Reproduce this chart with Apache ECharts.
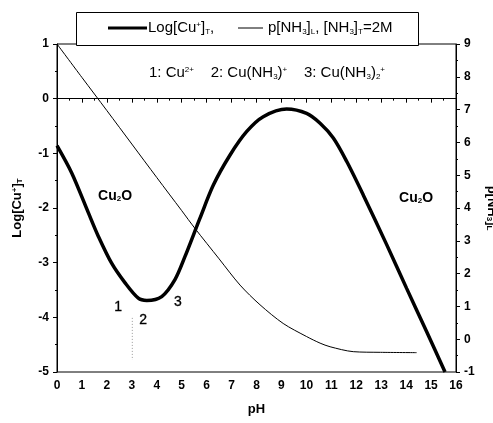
<!DOCTYPE html>
<html>
<head>
<meta charset="utf-8">
<script src="https://cdn.jsdelivr.net/npm/echarts@6/dist/echarts.min.js"></script>
<style>
html,body{margin:0;padding:0;background:#fff;}
#chart{width:493px;height:423px;}
</style>
</head>
<body>
<div id="chart"></div>
<script>
// ---- data ----
var cuPH = [0, 0.59, 1.26, 1.66, 2.19, 2.73, 3.26, 3.6, 4.2, 4.73, 5.13, 5.73, 6.27, 6.94, 7.61, 8.27, 9.21, 10.01, 10.55, 11.08, 11.62, 12.28, 13.22, 14.02, 14.82, 15.56];
var cuLog = [-0.86, -1.36, -2.09, -2.52, -3.01, -3.37, -3.65, -3.69, -3.62, -3.31, -2.89, -2.19, -1.58, -1.03, -0.60, -0.33, -0.19, -0.27, -0.45, -0.72, -1.15, -1.76, -2.67, -3.47, -4.26, -5.0];
var nhPH = [0, 1, 2, 3, 4, 5, 5.53, 6.5, 7.34, 8.14, 9.07, 10.01, 10.55, 10.95, 11.88, 12.97, 14.42];
var nhP = [9.0, 7.98, 6.97, 5.95, 4.93, 3.92, 3.38, 2.45, 1.65, 1.05, 0.48, 0.08, -0.12, -0.23, -0.38, -0.40, -0.41];
var dotPH = [3.02, 3.02];
var dotLog = [-4.01, -4.78];
var annoPH = [2.45, 3.45, 4.85, 2.33, 14.4];
var annoLog = [-3.81, -4.05, -3.72, -1.78, -1.82];
var annoText = ['{d|1}', '{d|2}', '{d|3}', '{b|Cu}{bs|2}{b|O}', '{b|Cu}{bs|2}{b|O}'];
var xTicks = {min: 0, max: 16, interval: 1};
var yLeftTicks = {min: -5, max: 1, interval: 1};
var yRightTicks = {min: -1, max: 9, interval: 1};
var legendTexts = ['Log[Cu{sup|+}]{sub|T},', 'p[NH{sub|3}]{sub|L}, [NH{sub|3}]{sub|T}=2M'];
var speciesText = '1: Cu{sup|2+}    2: Cu(NH{sub|3}){sup|+}    3: Cu(NH{sub|3}){sub|2}{sup|+}';

function zip(a, b) { return a.map(function (v, i) { return [v, b[i]]; }); }

var FONT = 'Liberation Sans';
var richSS = {
  sup: {fontSize: 8, verticalAlign: 'top', fontFamily: FONT, fill: '#000', color: '#000'},
  sub: {fontSize: 8, verticalAlign: 'bottom', fontFamily: FONT, fill: '#000', color: '#000'}
};

var chart = echarts.init(document.getElementById('chart'));
var axisCommon = {
  axisLine: {lineStyle: {color: '#000', width: 1}},
  axisTick: {show: true, length: 4, lineStyle: {color: '#000'}},
  minorTick: {show: true, splitNumber: 2, length: 2, lineStyle: {color: '#000'}},
  splitLine: {show: false},
  axisLabel: {color: '#000', fontFamily: FONT, fontWeight: 'bold', fontSize: 12}
};

var option = {
  animation: false,
  backgroundColor: '#fff',
  grid: {left: 57, right: 37, top: 44, bottom: 51, show: true, borderColor: '#000', borderWidth: 1,
    containLabel: false, outerBoundsMode: 'none'},
  xAxis: Object.assign({
    type: 'value', min: xTicks.min, max: xTicks.max, interval: xTicks.interval,
    name: 'pH', nameLocation: 'middle', nameGap: 31,
    nameTextStyle: {fontFamily: FONT, fontSize: 13, color: '#000', fontWeight: 'bold'}
  }, axisCommon, {axisLabel: Object.assign({}, axisCommon.axisLabel, {margin: 8})}),
  yAxis: [
    Object.assign({
      type: 'value', min: yLeftTicks.min, max: yLeftTicks.max, interval: yLeftTicks.interval,
      position: 'left',
      name: '{m|Log[Cu}{sup|+}{m|]}{sub|T}', nameLocation: 'middle', nameGap: 33, nameRotate: 90,
      nameTextStyle: {fontFamily: FONT, fontSize: 13, color: '#000', fontWeight: 'bold',
        rich: {m: {fontSize: 13, fontWeight: 'bold', fontFamily: FONT, color: '#000'},
               sup: {fontSize: 8, verticalAlign: 'top', fontFamily: FONT, color: '#000'},
               sub: {fontSize: 8, verticalAlign: 'bottom', fontFamily: FONT, color: '#000'}}}
    }, axisCommon),
    Object.assign({
      type: 'value', min: yRightTicks.min, max: yRightTicks.max, interval: yRightTicks.interval,
      position: 'right',
      name: '{m|p[NH}{sub|3}{m|]}{sub|L}', nameLocation: 'middle', nameGap: 19, nameRotate: -90,
      nameTextStyle: {fontFamily: FONT, fontSize: 13, color: '#000', fontWeight: 'bold',
        rich: {m: {fontSize: 13, fontWeight: 'bold', fontFamily: FONT, color: '#000'},
               sub: {fontSize: 8, verticalAlign: 'bottom', fontFamily: FONT, color: '#000'}}}
    }, axisCommon)
  ],
  series: [
    {
      type: 'line', name: 'Log[Cu+]T', data: zip(cuPH, cuLog), yAxisIndex: 0,
      smooth: 0.3, showSymbol: false, lineStyle: {color: '#000', width: 3.5}, z: 3
    },
    {
      type: 'line', name: 'p[NH3]L', data: zip(nhPH, nhP), yAxisIndex: 1,
      smooth: 0.3, showSymbol: false, lineStyle: {color: '#000', width: 1}, z: 2
    },
    {
      type: 'line', data: zip(dotPH, dotLog), yAxisIndex: 0, showSymbol: false,
      lineStyle: {color: '#999', width: 1, type: [1, 2]}
    },
    {
      type: 'scatter', yAxisIndex: 0, symbolSize: 0, silent: true,
      itemStyle: {opacity: 1},
      data: annoPH.map(function (x, i) {
        return {value: [x, annoLog[i]], label: {formatter: annoText[i]}};
      }),
      label: {
        show: true, position: 'inside', color: '#000', opacity: 1, fontFamily: FONT, fontSize: 14,
        rich: {
          d: {fontSize: 14, fontFamily: FONT, color: '#000', textBorderColor: '#000', textBorderWidth: 0.3},
          b: {fontSize: 14, fontWeight: 'bold', fontFamily: FONT, color: '#000'},
          bs: {fontSize: 8, fontWeight: 'bold', verticalAlign: 'bottom', fontFamily: FONT, color: '#000'}
        }
      }
    }
  ],
  graphic: [
    {type: 'rect', z: 100, shape: {x: 76.5, y: 12.5, width: 342, height: 33},
      style: {fill: '#fff', stroke: '#000', lineWidth: 1}},
    {type: 'line', z: 101, shape: {x1: 108, y1: 28, x2: 147, y2: 28}, style: {stroke: '#000', lineWidth: 3}},
    {type: 'text', z: 101, x: 148, y: 28, style: {text: legendTexts[0], fontFamily: FONT, fontSize: 15, fill: '#000',
      verticalAlign: 'middle', rich: richSS}},
    {type: 'line', z: 101, shape: {x1: 238, y1: 28, x2: 263, y2: 28}, style: {stroke: '#000', lineWidth: 1}},
    {type: 'text', z: 101, x: 268, y: 28, style: {text: legendTexts[1], fontFamily: FONT, fontSize: 15, fill: '#000',
      verticalAlign: 'middle', rich: richSS}},
    {type: 'text', z: 101, x: 267, y: 73, style: {text: speciesText, fontFamily: FONT, fontSize: 15, fill: '#000',
      align: 'center', verticalAlign: 'middle', rich: richSS}}
  ]
};
chart.setOption(option);
</script>
</body>
</html>
